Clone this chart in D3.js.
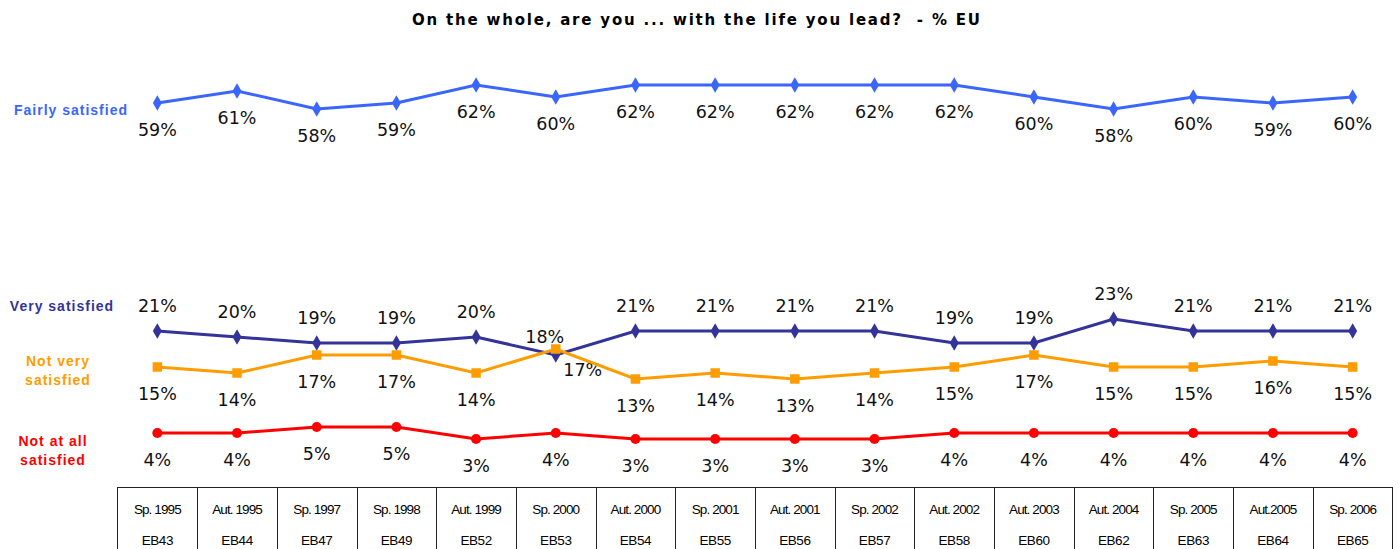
<!DOCTYPE html>
<html><head><meta charset="utf-8">
<script src="https://cdn.jsdelivr.net/npm/d3@7"></script>
<style>body{margin:0;background:#fff}svg{display:block}</style>
</head><body>
<svg id="c" width="1400" height="549"></svg>
<script>
const periods = ["Sp. 1995","Aut. 1995","Sp. 1997","Sp. 1998","Aut. 1999","Sp. 2000","Aut. 2000","Sp. 2001","Aut. 2001","Sp. 2002","Aut. 2002","Aut. 2003","Aut. 2004","Sp. 2005","Aut.2005","Sp. 2006"];
const waves = ["EB43","EB44","EB47","EB49","EB52","EB53","EB54","EB55","EB56","EB57","EB58","EB60","EB62","EB63","EB64","EB65"];
const fairlySatisfied = [59,61,58,59,62,60,62,62,62,62,62,60,58,60,59,60];
const verySatisfied = [21,20,19,19,20,17,21,21,21,21,19,19,23,21,21,21];
const notVerySatisfied = [15,14,17,17,14,18,13,14,13,14,15,17,15,15,16,15];
const notAtAllSatisfied = [4,4,5,5,3,4,3,3,3,3,4,4,4,4,4,4];

const svg = d3.select("#c");
const x = d3.scaleBand().domain(d3.range(periods.length)).range([117.5, 1392.5]);
const y = d3.scaleLinear().domain([0, 62]).range([457, 85]);
const cx = i => x(i) + x.bandwidth()/2;

svg.append("text").attr("x", 412).attr("y", 25)
  .attr("textLength", 568).attr("lengthAdjust","spacing")
  .attr("xml:space","preserve")
  .style("white-space","pre")
  .style("font-family","DejaVu Sans").style("font-weight","bold").style("font-size","15px")
  .text("On the whole, are you ... with the life you lead?  - % EU");

const series = [
  {name:"Fairly satisfied", vals:fairlySatisfied, color:"#3a66ff", marker:"diamond", pos:"below"},
  {name:"Very satisfied", vals:verySatisfied, color:"#333399", marker:"diamond", pos:"above"},
  {name:"Not very satisfied", vals:notVerySatisfied, color:"#ff9c00", marker:"square", pos:"below"},
  {name:"Not at all satisfied", vals:notAtAllSatisfied, color:"#ff0000", marker:"circle", pos:"below"}
];

const line = d3.line().x((d,i)=>cx(i)).y(d=>y(d));
series.forEach((s, si) => {
  const g = svg.append("g");
  g.append("path").attr("d", line(s.vals)).attr("fill","none").attr("stroke", s.color).attr("stroke-width", 3);
  const sym = s.marker==="diamond" ? d3.symbolDiamond : s.marker==="square" ? d3.symbolSquare : d3.symbolCircle;
  const size = s.marker==="diamond" ? 70 : s.marker==="square" ? 90 : 80;
  g.selectAll("path.m").data(s.vals).join("path").attr("class","m")
    .attr("transform",(d,i)=>`translate(${cx(i)},${y(d)})`)
    .attr("d", d3.symbol().type(sym).size(size)).attr("fill", s.color);
  g.selectAll("text").data(s.vals).join("text")
    .attr("x",(d,i)=>{
      if (si===2 && i===5) return cx(i)-11;
      if (si===1 && i===5) return cx(i)+27;
      return cx(i);
    })
    .attr("y",(d,i)=>{
      if (si===2 && i===5) return y(d)-6;
      if (si===1 && i===5) return y(d)+21;
      return s.pos==="above" ? y(d)-19 : y(d)+33;
    })
    .attr("text-anchor","middle")
    .style("font-family","DejaVu Sans").style("font-size","17.5px").attr("fill","#111")
    .text(d=>d+"%");
});

// legend labels
const lab = (lines, color, yy, cxp, gap) => {
  const t = svg.append("text").attr("text-anchor","middle").attr("fill",color)
    .style("font-family","Liberation Sans").style("font-weight","bold").style("font-size","14px")
    .style("letter-spacing","1px");
  lines.forEach((l,k)=>t.append("tspan").attr("x",cxp).attr("y",yy+k*gap).text(l));
};
lab(["Fairly satisfied"], "#3a66ff", 115, 71, 0);
lab(["Very satisfied"], "#333399", 311, 62, 0);
lab(["Not very","satisfied"], "#ff9c00", 366, 58, 19);
lab(["Not at all","satisfied"], "#ff0000", 446, 53, 19);

// table
const tb = svg.append("g");
const tableTop = 487.5;
tb.append("rect").attr("x", x.range()[0]).attr("y", tableTop).attr("width", x.range()[1]-x.range()[0]).attr("height", 80)
  .attr("fill","none").attr("stroke","#222").attr("stroke-width",1);
tb.selectAll("line").data(d3.range(1, periods.length)).join("line")
  .attr("x1", i=>Math.round(x(i))+0.5).attr("x2", i=>Math.round(x(i))+0.5).attr("y1", tableTop).attr("y2", 549)
  .attr("stroke","#222");
tb.selectAll("text.p").data(periods).join("text").attr("class","p")
  .attr("x",(d,i)=>cx(i)).attr("y",514).attr("text-anchor","middle")
  .style("font-family","Liberation Sans").style("font-size","13.5px").style("letter-spacing","-0.9px").text(d=>d);
tb.selectAll("text.w").data(waves).join("text").attr("class","w")
  .attr("x",(d,i)=>cx(i)).attr("y",545).attr("text-anchor","middle")
  .style("font-family","Liberation Sans").style("font-size","13.5px").style("letter-spacing","-0.4px").text(d=>d);
</script>
</body></html>
